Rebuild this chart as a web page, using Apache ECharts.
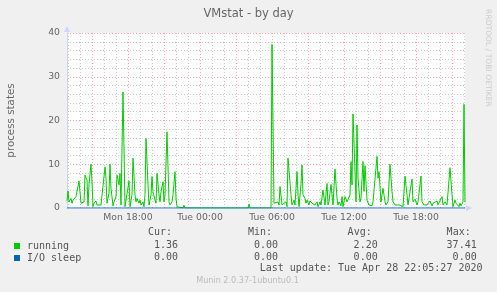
<!DOCTYPE html>
<html>
<head>
<meta charset="utf-8">
<script src="https://cdn.jsdelivr.net/npm/echarts@6/dist/echarts.min.js"></script>
<style>
html,body{margin:0;padding:0;background:#F0F0F0;}
#c{width:497px;height:292px;}
</style>
</head>
<body>
<div id="c"></div>
<script>
// ---- data ----
var startDayNames = ['Mon', 'Tue'];
var startMinute = 12 * 60 + 55;   // Mon 12:55
var stepMinutes = 5;
var pointCount = 399;              // through Tue 22:05
var seriesNames = ['running', 'I/O sleep'];
var seriesColors = ['#00CC00', '#0066B3'];
// running: [sample index, value]
var runningPoints = [
 [0,1.6],[1,3.9],[2,1.4],[4,2.2],[5,1.1],[6,1.8],[8,1.4],[9,2.6],[10,2.2],[12,6.2],[13,5.9],[14,1.1],
 [16,0.7],[17,1.4],[18,7.5],[20,6.4],[21,0.5],[22,5.3],[24,10],[25,6],[26,0.3],[27,1.1],[29,1.6],[30,0.7],
 [32,0.3],[34,0.7],[35,0.3],[38,9.4],[39,6.8],[40,1.1],[42,3.4],[43,10],[44,4.5],[46,0.5],[47,1.4],[49,2.6],
 [50,7.5],[52,5.3],[53,7.9],[54,0.7],[56,26.5],[58,0.3],[59,0.7],[62,6.2],[63,0.3],[65,3],[66,11.4],[68,3],
 [69,1.4],[70,2.2],[72,1.1],[73,1.8],[74,0.7],[76,1.4],[77,0.3],[78,3],[79,15.9],[81,5.3],[82,0.7],[84,3],
 [85,7.2],[86,3.7],[88,1.8],[89,1.1],[90,7.9],[92,3],[93,1.4],[94,3.7],[96,6],[97,1.4],[98,3],[100,17.4],
 [102,1.4],[103,0.7],[105,1.4],[106,3],[108,8.3],[109,2.2],[110,0.3],[112,0],[116,0],[117,0.6],[118,0],
 [181,0],[182,0.9],[183,0],[204,0],[205,37.41],[207,1.1],[208,0.8],[209,0.7],[211,1.4],[212,0.7],[213,4.9],
 [215,0.7],[216,0.3],[217,0.7],[219,1.4],[220,0.3],[221,11.4],[223,11.5],[224,3],[225,0.7],[227,1.8],[228,0.7],
 [230,8.3],[231,3],[232,0.3],[234,5.6],[235,9.8],[236,3],[238,2.2],[239,1.1],[240,1.8],[242,0.7],[243,1.6],
 [245,1.1],[246,1.4],[248,0.7],[250,1.4],[251,0.3],[252,0.8],[253,1.4],[254,0.7],[256,4.1],[258,0.7],[260,5.6],
 [261,0.7],[262,1.4],[264,5.4],[266,0.7],[268,8.9],[270,2.2],[271,0.7],[272,1.4],[274,0.5],[275,2.6],[276,0.3],
 [278,2.6],[280,1.4],[282,1.1],[283,3],[284,10.6],[285,5.3],[286,21.5],[288,8.3],[289,1.4],[290,19],[291,6.8],
 [293,1.4],[294,2.2],[296,10.6],[297,3.8],[298,9.7],[300,1.8],[302,0.7],[303,1.1],[305,0.5],[306,1.4],[308,1.1],
 [310,11.8],[311,6.8],[312,8.3],[314,1.4],[315,3],[316,4.5],[318,1.4],[319,0.7],[321,1.4],[323,10],[325,3.8],
 [326,1.4],[328,0.7],[330,0.3],[332,0.7],[334,1.1],[336,0.3],[338,7.3],[340,3],[341,0.7],[343,1.1],[345,6.6],
 [346,1.4],[348,2],[350,0.7],[351,1.4],[354,7.3],[355,1.4],[357,0.7],[358,0.3],[360,0.7],[361,0.7],[363,1.6],
 [365,0.5],[366,1.1],[368,0.7],[370,1.6],[371,0.7],[373,0.3],[375,2.6],[376,0.7],[378,1.4],[380,0.7],[381,1.1],
 [383,9.2],[384,9.4],[385,3],[386,0.3],[388,1.8],[389,1.1],[390,0.7],[392,0.3],[393,1.1],[394,0.5],[396,1.4],
 [397,23.7],[398,1.36]
];
var ioSleepPoints = [[0,0],[398,0]];
var yTicks = [0, 10, 20, 30, 40];
var statHeaders = ['Cur:', 'Min:', 'Avg:', 'Max:'];
var runningStats = ['1.36', '0.00', '2.20', '37.41'];
var ioSleepStats = ['0.00', '0.00', '0.00', '0.00'];
var titleText = 'VMstat - by day';
var yAxisName = 'process states';
var lastUpdate = 'Last update: Tue Apr 28 22:05:27 2020';
var footer = 'Munin 2.0.37-1ubuntu0.1';
var sideText = 'RRDTOOL / TOBI OETIKER';

// ---- categories (5-minute time slots) ----
var categories = [];
for (var i = 0; i < pointCount; i++) {
  var m = startMinute + i * stepMinutes;
  var d = Math.floor(m / 1440);
  var hh = Math.floor((m % 1440) / 60), mm = m % 60;
  categories.push(startDayNames[d] + ' ' + (hh < 10 ? '0' : '') + hh + ':' + (mm < 10 ? '0' : '') + mm);
}
function minuteOf(idx) { return (startMinute + idx * stepMinutes) % 1440; }
function isHour(idx) { return minuteOf(idx) % 60 === 0; }
function is3h(idx) { return minuteOf(idx) % 180 === 0; }
function is6h(idx) { return minuteOf(idx) % 360 === 0; }

var chart = echarts.init(document.getElementById('c'), null, {renderer: 'canvas'});
var FONT = 'DejaVu Sans';
var MONO = 'DejaVu Sans Mono';
var colRight = [178, 278, 377.7, 476.7];
var graphics = [];
statHeaders.forEach(function (h, k) {
  graphics.push({type: 'text', x: colRight[k] - 6, y: 232.5, style: {text: h, font: '10px ' + MONO, fill: '#555', align: 'right', verticalAlign: 'middle'}});
  graphics.push({type: 'text', x: colRight[k], y: 245, style: {text: runningStats[k], font: '10px ' + MONO, fill: '#555', align: 'right', verticalAlign: 'middle'}});
  graphics.push({type: 'text', x: colRight[k], y: 257, style: {text: ioSleepStats[k], font: '10px ' + MONO, fill: '#555', align: 'right', verticalAlign: 'middle'}});
});
graphics.push({type: 'text', x: 482.5, y: 268.5, style: {text: lastUpdate, font: '10px ' + MONO, fill: '#555', align: 'right', verticalAlign: 'middle'}});
graphics.push({type: 'text', x: 247.5, y: 281, style: {text: footer, font: '8.1px ' + FONT, fill: '#bbb', align: 'center', verticalAlign: 'middle'}});
graphics.push({type: 'text', x: 487.5, y: 58, rotation: -Math.PI / 2, style: {text: sideText, font: '7.6px ' + FONT, fill: '#ccc', align: 'center', verticalAlign: 'middle'}});

var option = {
  animation: false,
  backgroundColor: '#F0F0F0',
  title: {
    text: titleText, left: 'center', top: 3,
    textStyle: {fontFamily: FONT, fontSize: 11.5, fontWeight: 'normal', color: '#666'}
  },
  legend: {
    data: seriesNames, orient: 'vertical', left: 14, top: 240, padding: 0,
    icon: 'rect', itemWidth: 6, itemHeight: 6, itemGap: 0,
    selectedMode: false,
    textStyle: {fontFamily: MONO, fontSize: 10, color: '#555', lineHeight: 12, padding: [0, 0, 0, 2]}
  },
  grid: {left: 67, top: 33, width: 398, height: 175, show: true, backgroundColor: '#fff', borderWidth: 0,
         containLabel: false, outerBoundsMode: 'none'},
  xAxis: [{
    type: 'category', data: categories, boundaryGap: false,
    axisLine: {show: true, lineStyle: {color: '#CFD6F8', width: 1}, symbol: ['none', 'triangle'], symbolSize: [6, 6], symbolOffset: [0, 4]},
    axisTick: {show: false},
    axisLabel: {interval: function (idx) { return is6h(idx); }, fontFamily: FONT, fontSize: 9.3, color: '#666', margin: 5},
    splitLine: {show: true, interval: function (idx) { return isHour(idx) && !is3h(idx); }, lineStyle: {color: 'rgba(140,140,140,0.45)', type: [1, 2], width: 1}}
  }, {
    type: 'category', data: categories, boundaryGap: false, position: 'bottom',
    axisLine: {show: false}, axisTick: {show: false}, axisLabel: {show: false},
    splitLine: {show: true, interval: function (idx) { return is3h(idx); }, lineStyle: {color: 'rgba(255,60,60,0.45)', type: [1, 2], width: 1}}
  }],
  yAxis: {
    type: 'value', min: yTicks[0], max: yTicks[yTicks.length - 1], interval: 10,
    name: yAxisName, nameLocation: 'middle', nameGap: 51,
    nameTextStyle: {fontFamily: FONT, fontSize: 10.3, color: '#666'},
    axisLine: {show: true, lineStyle: {color: '#CFD6F8', width: 1}, symbol: ['none', 'triangle'], symbolSize: [6, 6], symbolOffset: [0, 4]},
    axisTick: {show: false},
    axisLabel: {fontFamily: FONT, fontSize: 9.3, color: '#666', margin: 7},
    splitLine: {show: true, lineStyle: {color: 'rgba(255,60,60,0.45)', type: [1, 2], width: 1}},
    minorTick: {show: false, splitNumber: 5},
    minorSplitLine: {show: true, lineStyle: {color: 'rgba(140,140,140,0.45)', type: [1, 2], width: 1}}
  },
  series: [{
    name: seriesNames[0], type: 'line', data: runningPoints, xAxisIndex: 0,
    showSymbol: false, symbol: 'none', color: seriesColors[0],
    lineStyle: {color: seriesColors[0], width: 1}, z: 3
  }, {
    name: seriesNames[1], type: 'line', data: ioSleepPoints, xAxisIndex: 0,
    showSymbol: false, symbol: 'none', color: seriesColors[1],
    lineStyle: {color: seriesColors[1], width: 1}, z: 4
  }],
  graphic: graphics
};
chart.setOption(option);
</script>
</body>
</html>
